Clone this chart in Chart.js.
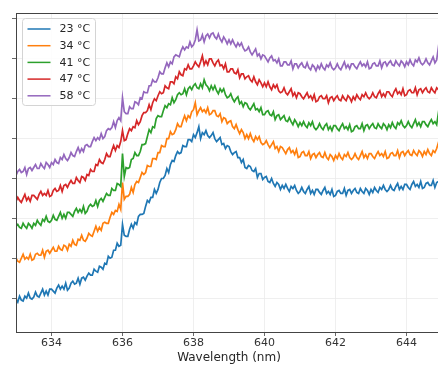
<!DOCTYPE html>
<html>
<head>
<meta charset="utf-8">
<script src="https://cdn.jsdelivr.net/npm/chart.js@4/dist/chart.umd.min.js"></script>
<style>
  html, body { margin: 0; padding: 0; background: #fff; overflow: hidden; }
  #wrap { width: 446px; height: 365px; }
</style>
</head>
<body>
<div id="wrap"><canvas id="spectra" width="446" height="365"></canvas></div>
<script>
const wavelength = [
  633.00, 633.05, 633.10, 633.15, 633.20, 633.25, 633.30, 633.35, 633.40, 633.45, 633.50, 633.55, 633.60, 633.65, 633.70, 633.75, 633.80, 633.85, 633.90, 633.95,
  634.00, 634.05, 634.10, 634.15, 634.20, 634.25, 634.30, 634.35, 634.40, 634.45, 634.50, 634.55, 634.60, 634.65, 634.70, 634.75, 634.80, 634.85, 634.90, 634.95,
  635.00, 635.05, 635.10, 635.15, 635.20, 635.25, 635.30, 635.35, 635.40, 635.45, 635.50, 635.55, 635.60, 635.65, 635.70, 635.75, 635.80, 635.85, 635.90, 635.95,
  636.00, 636.05, 636.10, 636.15, 636.20, 636.25, 636.30, 636.35, 636.40, 636.45, 636.50, 636.55, 636.60, 636.65, 636.70, 636.75, 636.80, 636.85, 636.90, 636.95,
  637.00, 637.05, 637.10, 637.15, 637.20, 637.25, 637.30, 637.35, 637.40, 637.45, 637.50, 637.55, 637.60, 637.65, 637.70, 637.75, 637.80, 637.85, 637.90, 637.95,
  638.00, 638.05, 638.10, 638.15, 638.20, 638.25, 638.30, 638.35, 638.40, 638.45, 638.50, 638.55, 638.60, 638.65, 638.70, 638.75, 638.80, 638.85, 638.90, 638.95,
  639.00, 639.05, 639.10, 639.15, 639.20, 639.25, 639.30, 639.35, 639.40, 639.45, 639.50, 639.55, 639.60, 639.65, 639.70, 639.75, 639.80, 639.85, 639.90, 639.95,
  640.00, 640.05, 640.10, 640.15, 640.20, 640.25, 640.30, 640.35, 640.40, 640.45, 640.50, 640.55, 640.60, 640.65, 640.70, 640.75, 640.80, 640.85, 640.90, 640.95,
  641.00, 641.05, 641.10, 641.15, 641.20, 641.25, 641.30, 641.35, 641.40, 641.45, 641.50, 641.55, 641.60, 641.65, 641.70, 641.75, 641.80, 641.85, 641.90, 641.95,
  642.00, 642.05, 642.10, 642.15, 642.20, 642.25, 642.30, 642.35, 642.40, 642.45, 642.50, 642.55, 642.60, 642.65, 642.70, 642.75, 642.80, 642.85, 642.90, 642.95,
  643.00, 643.05, 643.10, 643.15, 643.20, 643.25, 643.30, 643.35, 643.40, 643.45, 643.50, 643.55, 643.60, 643.65, 643.70, 643.75, 643.80, 643.85, 643.90, 643.95,
  644.00, 644.05, 644.10, 644.15, 644.20, 644.25, 644.30, 644.35, 644.40, 644.45, 644.50, 644.55, 644.60, 644.65, 644.70, 644.75, 644.80, 644.85, 644.90, 644.95,
  645.00
];

// intensity (a.u., spectra offset vertically), one value per wavelength
const t23 = [
  39, 36, 42, 38, 37, 42, 40, 45, 40, 39, 41, 46, 42, 41, 45, 49, 43, 47, 43, 49,
  49, 47, 45, 50, 53, 49, 52, 49, 55, 48, 50, 55, 57, 54, 55, 60, 54, 60, 61, 58,
  62, 65, 63, 63, 69, 67, 66, 72, 71, 69, 75, 74, 82, 80, 81, 88, 88, 95, 92, 93,
  114, 103, 102, 102, 109, 114, 110, 116, 114, 122, 124, 124, 125, 132, 138, 136, 141, 141, 149, 145,
  149, 156, 160, 160, 163, 170, 166, 174, 178, 177, 183, 187, 185, 186, 193, 192, 192, 199, 199, 197,
  204, 201, 206, 212, 200, 206, 204, 208, 203, 201, 203, 206, 200, 197, 199, 201, 194, 195, 190, 193,
  192, 187, 184, 186, 187, 181, 181, 176, 179, 171, 170, 173, 172, 168, 167, 170, 161, 165, 165, 159,
  161, 162, 157, 156, 160, 155, 152, 156, 154, 149, 153, 150, 154, 150, 147, 152, 150, 153, 148, 145,
  147, 151, 147, 145, 149, 152, 145, 148, 144, 149, 149, 146, 144, 148, 151, 145, 147, 144, 149, 142,
  143, 147, 148, 145, 145, 150, 143, 148, 149, 145, 148, 150, 146, 145, 150, 147, 145, 150, 148, 144,
  149, 146, 151, 148, 146, 151, 149, 153, 149, 147, 149, 153, 149, 148, 152, 155, 149, 152, 149, 154,
  154, 151, 149, 154, 157, 152, 154, 151, 157, 150, 151, 155, 156, 153, 153, 158, 151, 156, 157, 153,
  155
];
const t34 = [
  80, 77, 76, 80, 84, 79, 81, 79, 84, 78, 79, 84, 85, 83, 83, 88, 81, 87, 88, 85,
  88, 91, 87, 87, 92, 89, 88, 93, 92, 88, 94, 92, 98, 94, 93, 99, 98, 103, 98, 97,
  100, 105, 103, 102, 107, 112, 107, 111, 108, 115, 116, 115, 115, 121, 126, 124, 128, 127, 134, 129,
  156, 139, 142, 142, 144, 151, 146, 154, 157, 156, 161, 166, 164, 166, 173, 172, 172, 180, 180, 179,
  186, 186, 193, 192, 192, 200, 200, 207, 204, 205, 209, 215, 212, 212, 218, 223, 218, 223, 221, 227,
  229, 236, 224, 228, 231, 227, 229, 226, 231, 224, 225, 228, 228, 223, 222, 225, 217, 221, 220, 215,
  217, 218, 212, 210, 214, 209, 205, 209, 206, 200, 204, 200, 205, 200, 197, 202, 199, 202, 196, 194,
  195, 198, 194, 191, 194, 197, 190, 192, 187, 192, 191, 188, 185, 189, 191, 186, 188, 184, 189, 181,
  182, 186, 187, 183, 183, 187, 180, 184, 185, 181, 184, 186, 182, 181, 186, 181, 179, 184, 182, 178,
  183, 180, 185, 181, 179, 184, 182, 186, 181, 179, 181, 185, 181, 179, 183, 187, 181, 184, 180, 185,
  185, 182, 180, 184, 187, 183, 185, 182, 187, 180, 181, 185, 186, 183, 183, 188, 181, 186, 187, 183,
  186, 188, 184, 183, 188, 185, 183, 188, 186, 182, 187, 184, 189, 185, 183, 188, 186, 190, 196, 183,
  187
];
const t41 = [
  112, 114, 111, 110, 115, 112, 110, 115, 113, 110, 115, 113, 118, 115, 113, 119, 117, 122, 117, 116,
  118, 123, 119, 118, 122, 126, 120, 124, 120, 126, 126, 124, 122, 127, 130, 126, 129, 126, 132, 125,
  127, 132, 134, 132, 133, 138, 132, 138, 140, 137, 141, 145, 143, 143, 150, 148, 148, 155, 154, 152,
  185, 162, 171, 170, 171, 179, 180, 186, 183, 183, 187, 194, 194, 195, 202, 209, 206, 212, 211, 220,
  223, 222, 222, 228, 233, 231, 235, 234, 241, 236, 239, 244, 246, 244, 245, 250, 244, 250, 252, 249,
  253, 255, 251, 250, 255, 251, 259, 254, 252, 248, 253, 249, 253, 248, 245, 250, 247, 250, 244, 241,
  242, 245, 240, 237, 240, 242, 235, 237, 232, 236, 235, 231, 229, 232, 235, 229, 230, 227, 231, 224,
  224, 227, 228, 224, 223, 227, 219, 223, 224, 219, 221, 223, 218, 217, 221, 217, 214, 219, 216, 212,
  216, 213, 217, 213, 211, 216, 213, 217, 211, 209, 211, 215, 211, 209, 213, 215, 209, 212, 208, 213,
  213, 210, 208, 212, 215, 210, 212, 209, 214, 207, 208, 212, 213, 210, 210, 215, 208, 213, 214, 210,
  213, 215, 211, 210, 215, 212, 210, 215, 213, 209, 214, 211, 216, 212, 210, 216, 214, 218, 213, 211,
  213, 217, 213, 211, 215, 219, 213, 216, 212, 217, 217, 214, 212, 216, 219, 215, 217, 214, 226, 212,
  216
];
const t47 = [
  137, 141, 138, 136, 140, 144, 138, 141, 137, 143, 143, 141, 139, 144, 147, 143, 145, 143, 148, 142,
  143, 148, 150, 147, 148, 153, 147, 153, 154, 151, 155, 158, 155, 155, 161, 158, 156, 162, 161, 158,
  164, 163, 169, 167, 167, 174, 173, 179, 176, 175, 179, 185, 182, 182, 188, 193, 188, 193, 191, 197,
  208, 198, 199, 205, 210, 208, 212, 211, 218, 214, 217, 223, 226, 226, 228, 234, 229, 236, 240, 238,
  243, 247, 245, 246, 253, 251, 250, 257, 257, 255, 262, 260, 267, 264, 263, 270, 269, 274, 270, 270,
  273, 277, 274, 272, 277, 283, 274, 278, 274, 280, 280, 276, 273, 277, 279, 273, 274, 270, 275, 267,
  267, 270, 270, 266, 265, 269, 261, 265, 265, 260, 262, 263, 259, 257, 262, 257, 254, 259, 256, 252,
  256, 252, 257, 252, 249, 254, 251, 254, 248, 246, 247, 251, 246, 244, 247, 250, 243, 246, 241, 246,
  245, 242, 240, 243, 246, 241, 243, 239, 244, 237, 238, 242, 243, 240, 240, 243, 236, 241, 242, 238,
  241, 243, 239, 238, 243, 240, 238, 243, 241, 237, 242, 239, 244, 241, 239, 244, 242, 246, 242, 240,
  242, 246, 242, 241, 245, 248, 242, 245, 242, 247, 247, 244, 242, 247, 250, 245, 247, 244, 250, 243,
  244, 248, 249, 246, 246, 251, 244, 249, 250, 246, 249, 251, 247, 246, 251, 248, 246, 251, 249, 245,
  249
];
const t58 = [
  163, 167, 169, 166, 167, 171, 164, 170, 171, 168, 171, 174, 170, 170, 175, 172, 170, 176, 174, 171,
  176, 174, 179, 176, 175, 181, 179, 184, 180, 178, 181, 186, 183, 182, 187, 191, 186, 190, 187, 193,
  194, 192, 192, 197, 201, 198, 201, 199, 205, 200, 202, 208, 210, 209, 211, 217, 211, 218, 221, 218,
  241, 227, 225, 225, 232, 230, 230, 237, 236, 234, 241, 240, 247, 246, 246, 253, 253, 259, 257, 257,
  261, 267, 265, 265, 271, 276, 272, 277, 275, 282, 284, 283, 282, 288, 292, 289, 292, 291, 297, 292,
  294, 299, 309, 298, 299, 304, 297, 303, 305, 301, 305, 306, 302, 300, 305, 300, 297, 302, 299, 295,
  299, 295, 299, 295, 292, 296, 293, 296, 291, 288, 289, 292, 287, 284, 287, 290, 283, 285, 280, 284,
  283, 280, 277, 281, 283, 278, 279, 276, 280, 273, 273, 277, 277, 274, 274, 278, 270, 275, 275, 271,
  274, 276, 272, 271, 276, 271, 269, 274, 272, 268, 273, 270, 275, 271, 269, 274, 272, 276, 271, 269,
  271, 275, 271, 269, 273, 277, 271, 274, 270, 275, 275, 272, 270, 274, 277, 273, 275, 272, 277, 270,
  271, 275, 276, 273, 273, 278, 271, 276, 277, 273, 276, 278, 274, 273, 278, 275, 273, 278, 276, 272,
  277, 274, 279, 275, 273, 279, 277, 281, 276, 274, 276, 280, 276, 274, 278, 282, 276, 279, 292, 280,
  278
];

const seriesLabels = ['23 °C', '34 °C', '41 °C', '47 °C', '58 °C'];
const seriesValues = [t23, t34, t41, t47, t58];
const colors = ['#1f77b4', '#ff7f0e', '#2ca02c', '#d62728', '#9467bd'];

const xTicks = [634, 636, 638, 640, 642, 644];
const yTicks = [40, 80, 120, 160, 200, 240, 280, 320];

const FONT = '"DejaVu Sans", Verdana, sans-serif';

const frame = {
  id: 'frame',
  afterDatasetsDraw(chart) {
    const { ctx, chartArea: a } = chart;
    ctx.save();
    ctx.strokeStyle = '#444';
    ctx.lineWidth = 1;
    ctx.strokeRect(Math.round(a.left) + 0.5, Math.round(a.top) + 0.5,
      Math.round(a.right - a.left), Math.round(a.bottom - a.top));
    ctx.restore();
  }
};

const legendBox = {
  id: 'legendBox',
  afterDraw(chart) {
    const { ctx, chartArea: a } = chart;
    const x = a.left + 6.5, y = a.top + 5.5, w = 73, h = 87;
    ctx.save();
    ctx.beginPath();
    ctx.roundRect(x, y, w, h, 3);
    ctx.fillStyle = 'rgba(255,255,255,0.85)';
    ctx.fill();
    ctx.strokeStyle = '#d4d4d4';
    ctx.lineWidth = 1;
    ctx.stroke();
    ctx.font = '11px ' + FONT;
    ctx.textBaseline = 'middle';
    chart.data.datasets.forEach((ds, i) => {
      const ry = y + 10.5 + i * 16.7;
      ctx.strokeStyle = ds.borderColor;
      ctx.lineWidth = 1.5;
      ctx.beginPath();
      ctx.moveTo(x + 5, ry);
      ctx.lineTo(x + 28, ry);
      ctx.stroke();
      ctx.fillStyle = '#262626';
      ctx.fillText(ds.label, x + 37, ry + 0.5);
    });
    ctx.restore();
  }
};

new Chart(document.getElementById('spectra'), {
  type: 'line',
  data: {
    datasets: seriesLabels.map((label, i) => ({
      label,
      data: wavelength.map((w, k) => ({ x: w, y: seriesValues[i][k] })),
      borderColor: colors[i],
      borderWidth: 1.7,
      pointRadius: 0,
      tension: 0,
      fill: false,
      order: 5 - i,
    })),
  },
  options: {
    responsive: false,
    animation: false,
    events: [],
    layout: { padding: { left: 12, top: 13, right: 4, bottom: 0 } },
    plugins: { legend: { display: false }, tooltip: { enabled: false } },
    scales: {
      x: {
        type: 'linear',
        min: 633,
        max: 645,
        afterBuildTicks: s => { s.ticks = xTicks.map(v => ({ value: v })); },
        afterFit: s => { s.height = 33; },
        ticks: { color: '#333', font: { family: FONT, size: 11 }, padding: 1, maxRotation: 0 },
        grid: { color: '#ebebeb', lineWidth: 0.8, tickLength: 4, tickColor: '#444' },
        border: { display: false },
        title: {
          display: true,
          text: 'Wavelength (nm)',
          color: '#262626',
          font: { family: FONT, size: 12 },
          padding: { top: 0, bottom: 0 },
        },
      },
      y: {
        type: 'linear',
        min: 6,
        max: 326,
        afterBuildTicks: s => { s.ticks = yTicks.map(v => ({ value: v })); },
        afterFit: s => { s.width = 4; },
        ticks: { display: false },
        grid: { color: '#ebebeb', lineWidth: 0.8, tickLength: 4, tickColor: '#444' },
        border: { display: false },
      },
    },
  },
  plugins: [frame, legendBox],
});
</script>
</body>
</html>
